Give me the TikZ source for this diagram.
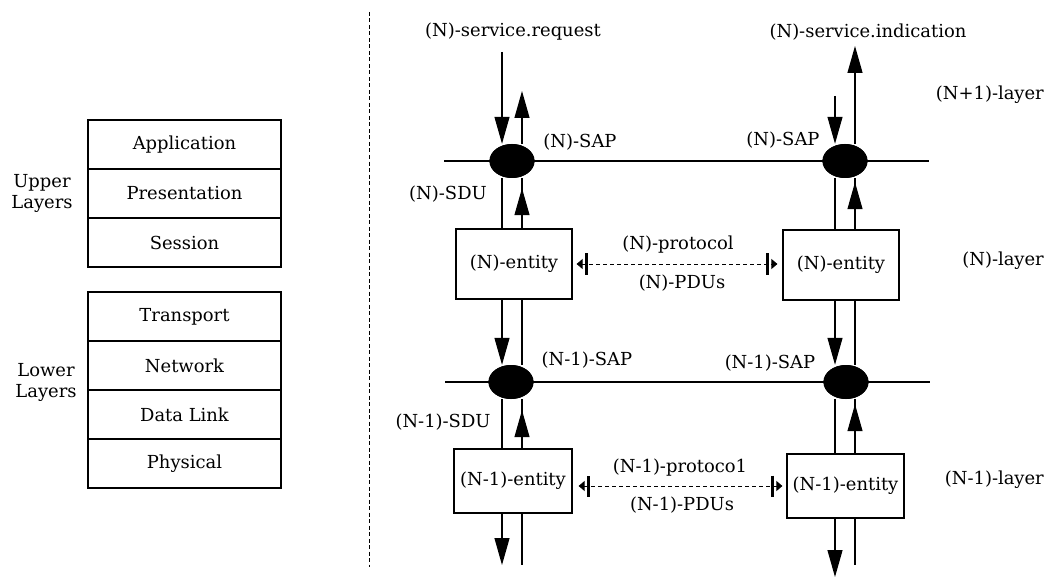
\documentclass[tikz,border=0pt]{standalone}
\usepackage{fontspec}
\setmainfont{DejaVu Serif}
\usetikzlibrary{arrows.meta,shapes.geometric}

\tikzset{
  every node/.style={font=\fontsize{18}{21}\selectfont, inner sep=0pt},
  layerbox/.style={draw, line width=1.2bp, minimum width=193bp, minimum height=49bp},
  entity/.style={draw, line width=1.2bp, minimum width=116bp, minimum height=70bp},
  entitylow/.style={entity, minimum width=118bp, minimum height=64bp},
  sap/.style={ellipse, fill=black, minimum width=45bp, minimum height=34bp},
  wire/.style={line width=1.2bp},
  flow/.style={wire, -{Triangle[length=27bp,width=15bp]}},
  peer/.style={line width=0.9bp, dash pattern=on 4bp off 3bp,
    {Triangle[length=6bp,width=10bp] Bar[width=21bp,line width=3bp,sep=2bp]}-{Bar[width=21bp,line width=3bp,sep=2bp] Triangle[length=6bp,width=10bp]}},
  divider/.style={line width=1bp, dash pattern=on 4bp off 2.5bp},
  layerlabel/.style={anchor=east}
}

\begin{document}
\begin{tikzpicture}[x=1bp, y=-1bp]
\useasboundingbox (0,0) rectangle (1050,578);

% ---- OSI stack ----
\node[layerbox] (app)  at (184.5,144.5) {Application};
\node[layerbox] (pres) at (184.5,193.5) {Presentation};
\node[layerbox] (sess) at (184.5,242.5) {Session};
\node[layerbox] (trans) at (184.5,316.5) {Transport};
\node[layerbox] (net)   at (184.5,365.5) {Network};
\node[layerbox] (dl)    at (184.5,414.5) {Data Link};
\node[layerbox] (phys)  at (184.5,463.5) {Physical};
\node[align=center] (upper) at (42,193) {Upper\\Layers};
\node[align=center] (lower) at (46,382) {Lower\\Layers};

% ---- separator ----
\coordinate (sepT) at (369,12);
\coordinate (sepB) at (369,567);
\draw[divider] (sepT) -- (sepB);

% ---- columns of the service model ----
\coordinate (a1) at (502,0);
\coordinate (a2) at (522,0);
\coordinate (b1) at (835,0);
\coordinate (b2) at (855,0);

% layer boundaries
\coordinate (nL) at (444,161);  \coordinate (nR) at (929,161);
\coordinate (mL) at (445,382);  \coordinate (mR) at (930,382);
\draw[wire] (nL) -- (nR);
\draw[wire] (mL) -- (mR);

% entities
\node[entity] (entA) at (514,264) {(N)-entity};
\node[entity] (entB) at (841,265) {(N)-entity};
\node[entitylow] (entA1) at (513,481) {(N-1)-entity};
\node[entitylow, minimum width=117bp] (entB1) at (845.5,486) {(N-1)-entity};

% service access points (placed, drawn later on top of the wires)
\path (512,161) coordinate (sapAc) (845,161) coordinate (sapBc)
      (511,382) coordinate (sapA1c) (846,382) coordinate (sapB1c);
\node[sap] (sapA) at (sapAc) {};
\node[sap] (sapB) at (sapBc) {};
\node[sap] (sapA1) at (sapA1c) {};
\node[sap] (sapB1) at (sapB1c) {};

% free ends of the primitives
\coordinate (reqA) at (502,52);
\coordinate (cnfA) at (522,91);
\coordinate (reqB) at (835,96);
\coordinate (indB) at (855,46);
\coordinate (botA1) at (502,565);
\coordinate (botA2) at (522,565);
\coordinate (botB1) at (835,577);
\coordinate (botB2) at (855,565);

% column A
\draw[flow] (reqA) -- (a1 |- sapA.north);
\draw[flow] (a2 |- sapA.north) -- (cnfA);
\draw[wire] (a1 |- sapA.south) -- (a1 |- entA.north);
\draw[wire] (a2 |- entA.north) -- (a2 |- sapA.south);
\draw[flow, shorten >=10bp] (a2 |- entA.north) -- (a2 |- sapA.south);
\draw[flow] (a1 |- entA.south) -- (a1 |- sapA1.north);
\draw[wire] (a2 |- entA.south) -- (a2 |- sapA1.north);
\draw[wire] (a1 |- sapA1.south) -- (a1 |- entA1.north);
\draw[wire] (a2 |- entA1.north) -- (a2 |- sapA1.south);
\draw[flow, shorten >=11bp] (a2 |- entA1.north) -- (a2 |- sapA1.south);
\draw[flow] (a1 |- entA1.south) -- (botA1);
\draw[wire] (a2 |- entA1.south) -- (botA2);

% column B
\draw[flow] (reqB) -- (b1 |- sapB.north);
\draw[flow] (b2 |- sapB.north) -- (indB);
\draw[wire] (b1 |- sapB.south) -- (b1 |- entB.north);
\draw[wire] (b2 |- entB.north) -- (b2 |- sapB.south);
\draw[flow, shorten >=4bp] (b2 |- entB.north) -- (b2 |- sapB.south);
\draw[flow] (b1 |- entB.south) -- (b1 |- sapB1.north);
\draw[wire] (b2 |- entB.south) -- (b2 |- sapB1.north);
\draw[wire] (b1 |- sapB1.south) -- (b1 |- entB1.north);
\draw[wire] (b2 |- entB1.north) -- (b2 |- sapB1.south);
\draw[flow, shorten >=5bp] (b2 |- entB1.north) -- (b2 |- sapB1.south);
\draw[flow] (b1 |- entB1.south) -- (botB1);
\draw[wire] (b2 |- entB1.south) -- (botB2);

% SAP blobs over the wires
\node[sap] at (sapAc) {};
\node[sap] at (sapBc) {};
\node[sap] at (sapA1c) {};
\node[sap] at (sapB1c) {};

% peer protocols
\draw[peer, shorten <=4bp, shorten >=5bp] (entA.east) -- (entA.east -| entB.west);
\draw[peer, shorten <=6bp, shorten >=4bp] (entA1.east |- entB1.west) -- (entB1.west);

% labels
\node (lreq) at (513,32) {(N)-service.request};
\node (lind) at (868,32) {(N)-service.indication};
\node[layerlabel] (lnp1) at (1044,95) {(N+1)-layer};
\node[layerlabel] (ln)   at (1044,261) {(N)-layer};
\node[layerlabel] (lnm1) at (1044,480) {(N-1)-layer};
\node (lsapA) at (580,142) {(N)-SAP};
\node (lsapB) at (783,140) {(N)-SAP};
\node (lsduA) at (448,194) {(N)-SDU};
\node (lprot) at (678,245) {(N)-protocol};
\node (lpdu)  at (682,283) {(N)-PDUs};
\node (lsapA1) at (587,360) {(N-1)-SAP};
\node (lsapB1) at (770,363) {(N-1)-SAP};
\node (lsduA1) at (443,422) {(N-1)-SDU};
\node (lprot1) at (680,468) {(N-1)-protoco1};
\node (lpdu1)  at (682,505) {(N-1)-PDUs};
\end{tikzpicture}
\end{document}
